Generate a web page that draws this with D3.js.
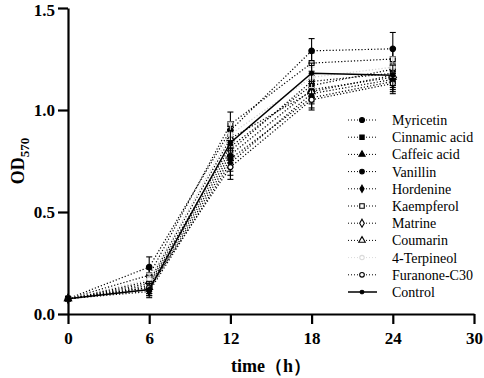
<!DOCTYPE html>
<html>
<head>
<meta charset="utf-8">
<script src="https://cdn.jsdelivr.net/npm/d3@7"></script>
<style>
  body { margin: 0; background: #fff; }
  svg { display: block; font-family: "Liberation Serif", "Times New Roman", serif; }
</style>
</head>
<body>
<svg id="chart"></svg>
<script>
// time points (h)
const times = [0, 6, 12, 18, 24];

// OD570 means and error (SD) per series
const myricetin   = [0.075, 0.23, 0.90, 1.29, 1.30];
const cinnamic    = [0.075, 0.15, 0.82, 1.12, 1.20];
const caffeic     = [0.075, 0.13, 0.78, 1.10, 1.16];
const vanillin    = [0.075, 0.12, 0.76, 1.06, 1.14];
const hordenine   = [0.075, 0.11, 0.74, 1.08, 1.15];
const kaempferol  = [0.075, 0.19, 0.93, 1.23, 1.25];
const matrine     = [0.075, 0.14, 0.80, 1.14, 1.18];
const coumarin    = [0.075, 0.16, 0.86, 1.09, 1.17];
const terpineol   = [0.075, 0.17, 0.88, 1.16, 1.21];
const furanone    = [0.075, 0.13, 0.72, 1.05, 1.13];
const control     = [0.075, 0.12, 0.84, 1.18, 1.17];

const errMyricetin = [0.01, 0.05, 0.04, 0.06, 0.08];
const errOther     = [0.01, 0.03, 0.06, 0.05, 0.05];

const seriesNames = ["Myricetin", "Cinnamic acid", "Caffeic acid", "Vanillin", "Hordenine",
                     "Kaempferol", "Matrine", "Coumarin", "4-Terpineol", "Furanone-C30", "Control"];
const seriesValues = [myricetin, cinnamic, caffeic, vanillin, hordenine,
                      kaempferol, matrine, coumarin, terpineol, furanone, control];
const seriesErrors = [errMyricetin, errOther, errOther, errOther, errOther,
                      errOther, errOther, errOther, errOther, errOther, errOther];

const xTicks = [0, 6, 12, 18, 24, 30];
const yTicks = [0, 0.5, 1.0, 1.5];

// marker style per series: [symbol, filled, size]
const markerStyle = [
  [d3.symbolCircle, true, 24],
  [d3.symbolSquare, true, 22],
  [d3.symbolTriangle, true, 20],
  [d3.symbolCircle, true, 20],
  [d3.symbolDiamond, true, 18],
  [d3.symbolSquare, false, 24],
  [d3.symbolDiamond, false, 22],
  [d3.symbolTriangle, false, 22],
  [d3.symbolCircle, false, 18],
  [d3.symbolCircle, false, 20],
  [d3.symbolCircle, true, 12]
];

let width = 484, height = 378;
let svg = d3.select("#chart").attr("width", width).attr("height", height);

let x = d3.scaleLinear().domain([0, 30]).range([68, 474]);
let y = d3.scaleLinear().domain([0, 1.5]).range([314, 8]);

let series = seriesNames.map((name, i) => ({
  name: name,
  values: seriesValues[i].map((v, j) => ({t: times[j], v: v, e: seriesErrors[i][j]})),
  marker: markerStyle[i],
  isControl: name === "Control",
  faint: name === "4-Terpineol"
}));

let line = d3.line().x(d => x(d.t)).y(d => y(d.v));

let plot = svg.append("g");
series.forEach(s => {
  let g = plot.append("g");
  let col = s.faint ? "#d0d0d0" : "#000";

  // error bars
  g.selectAll("g.err").data(s.values).enter().append("g").attr("class", "err")
    .each(function(d) {
      let eg = d3.select(this);
      eg.append("line").attr("x1", x(d.t)).attr("x2", x(d.t))
        .attr("y1", y(d.v - d.e)).attr("y2", y(d.v + d.e))
        .attr("stroke", col).attr("stroke-width", 1.1);
      [d.v - d.e, d.v + d.e].forEach(ev => {
        eg.append("line").attr("x1", x(d.t) - 3).attr("x2", x(d.t) + 3)
          .attr("y1", y(ev)).attr("y2", y(ev))
          .attr("stroke", col).attr("stroke-width", 1.1);
      });
    });

  g.append("path").attr("d", line(s.values))
    .attr("fill", "none").attr("stroke", col)
    .attr("stroke-width", s.isControl ? 1.5 : 1.2)
    .attr("stroke-dasharray", s.isControl ? null : "1.2,2");

  g.selectAll("path.pt").data(s.values).enter().append("path").attr("class", "pt")
    .attr("transform", d => "translate(" + x(d.t) + "," + y(d.v) + ")")
    .attr("d", d3.symbol().type(s.marker[0]).size(s.marker[2]))
    .attr("fill", s.marker[1] ? col : "#fff")
    .attr("stroke", col).attr("stroke-width", 1.1);
});

// axes
let fontTick = "bold 17px 'Liberation Serif', 'Times New Roman', serif";
let axLeft = d3.axisLeft(y).tickValues(yTicks).tickFormat(d3.format(".1f"))
  .tickSize(10).tickSizeOuter(0).tickPadding(3);
let gy = svg.append("g").attr("transform", "translate(68,0)").call(axLeft);

let axBottom = d3.axisBottom(x).tickValues(xTicks).tickFormat(d3.format("d"))
  .tickSize(10).tickSizeOuter(0).tickPadding(8);
let gx = svg.append("g").attr("transform", "translate(0,314)").call(axBottom);

[gx, gy].forEach(g => {
  g.selectAll("path, line").attr("stroke", "#000").attr("stroke-width", 2.2);
  g.selectAll("text").style("font", fontTick).attr("fill", "#000");
});
gy.selectAll(".tick").filter(d => d === 1.5).select("text").attr("dy", "0.42em");

// axis titles
svg.append("text")
  .attr("x", 271).attr("y", 372)
  .attr("text-anchor", "middle")
  .style("font", "bold 18px 'Liberation Serif', 'Times New Roman', serif")
  .text("time（h）");

let yl = svg.append("text")
  .attr("transform", "translate(24,161) rotate(-90)")
  .attr("text-anchor", "middle")
  .style("font", "bold 18px 'Liberation Serif', 'Times New Roman', serif");
yl.append("tspan").text("OD");
yl.append("tspan").attr("dy", 5).style("font-size", "13px").text("570");

// legend
let legend = svg.append("g");
series.forEach((s, i) => {
  let ly = 120 + i * 17.2;
  let col = s.faint ? "#dadada" : "#000";
  let row = legend.append("g");
  row.append("line").attr("x1", 348).attr("x2", 377).attr("y1", ly).attr("y2", ly)
    .attr("stroke", col).attr("stroke-width", s.isControl ? 1.5 : 1)
    .attr("stroke-dasharray", s.isControl ? null : "1,2");
  row.append("path")
    .attr("transform", "translate(362," + ly + ")")
    .attr("d", d3.symbol().type(s.marker[0]).size(s.marker[2] * 0.85))
    .attr("fill", s.marker[1] ? col : "#fff")
    .attr("stroke", col).attr("stroke-width", 1.1);
  row.append("text").attr("x", 392).attr("y", ly).attr("dy", "0.35em")
    .style("font-size", "14px").attr("fill", "#000")
    .text(s.name);
});
</script>
</body>
</html>
